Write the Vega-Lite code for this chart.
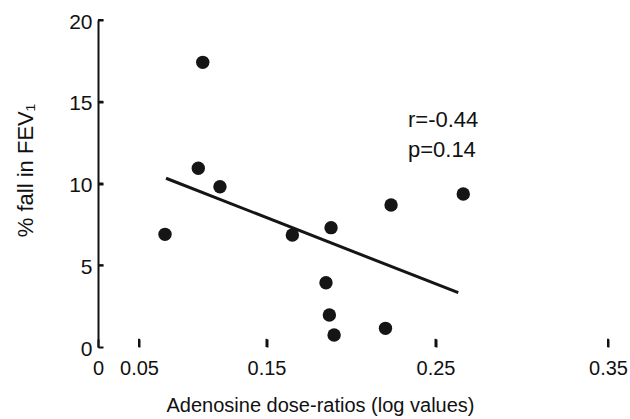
{
  "$schema": "https://vega.github.io/schema/vega-lite/v6.json",
  "width": 510,
  "height": 327,
  "autosize": {"type": "none"},
  "padding": {"left": 98, "top": 20, "right": 22, "bottom": 72},
  "background": "#ffffff",
  "config": {"view": {"stroke": null}, "font": "Liberation Sans"},
  "datasets": {
    "points": [
      {"dose_ratio": 0.100, "fall": 17.41},
      {"dose_ratio": 0.0965, "fall": 10.93},
      {"dose_ratio": 0.1135, "fall": 9.80},
      {"dose_ratio": 0.0704, "fall": 6.89},
      {"dose_ratio": 0.1653, "fall": 6.85},
      {"dose_ratio": 0.1882, "fall": 7.30},
      {"dose_ratio": 0.2237, "fall": 8.69},
      {"dose_ratio": 0.2661, "fall": 9.36},
      {"dose_ratio": 0.1852, "fall": 3.93},
      {"dose_ratio": 0.1872, "fall": 1.96},
      {"dose_ratio": 0.1900, "fall": 0.73},
      {"dose_ratio": 0.2204, "fall": 1.14}
    ],
    "fit": [
      {"dose_ratio": 0.0712, "fall": 10.32},
      {"dose_ratio": 0.2632, "fall": 3.32}
    ],
    "notes": [
      {"dose_ratio": 0.2337, "fall": 13.46, "label": "r=-0.44"},
      {"dose_ratio": 0.2337, "fall": 11.6, "label": "p=0.14"}
    ],
    "xticks": [{"tick": 0.05}, {"tick": 0.15}, {"tick": 0.25}, {"tick": 0.35}],
    "yticks": [{"tick": 5}, {"tick": 10}, {"tick": 15}, {"tick": 20}]
  },
  "layer": [
    {
      "data": {"name": "points"},
      "mark": {"type": "circle", "size": 180, "opacity": 1, "color": "#151515"},
      "encoding": {
        "x": {
          "field": "dose_ratio",
          "type": "quantitative",
          "scale": {"domain": [0, 0.05, 0.15, 0.25, 0.35], "range": [0, 41, 168.5, 337.5, 510]},
          "axis": {
            "values": [0, 0.05, 0.15, 0.25, 0.35],
            "labelExpr": "datum.value == 0 ? '0' : format(datum.value, '.2f')",
            "domain": false,
            "grid": false,
            "ticks": true,
            "zindex": 1,
            "tickSize": -8,
            "tickWidth": 2,
            "tickColor": "#111111",
            "labelFontSize": 20,
            "labelColor": "#111111",
            "labelPadding": 19,
            "labelFlush": false,
            "labelOverlap": false,
            "title": "Adenosine dose-ratios (log values)",
            "titleFontSize": 20,
            "titleFontWeight": "normal",
            "titleColor": "#111111",
            "titleX": 222,
            "titleY": 64,
            "titleBaseline": "alphabetic"
          }
        },
        "y": {
          "field": "fall",
          "type": "quantitative",
          "scale": {"domain": [0, 20], "nice": false, "zero": false},
          "axis": {
            "values": [0, 5, 10, 15, 20],
            "domainWidth": 2,
            "domainColor": "#111111",
            "grid": false,
            "ticks": true,
            "zindex": 1,
            "tickSize": -5,
            "tickWidth": 2,
            "tickColor": "#111111",
            "labelFontSize": 21,
            "labelColor": "#111111",
            "labelPadding": 11,
            "labelOffset": 2,
            "labelFlush": false,
            "labelOverlap": false,
            "title": "% fall in FEV₁",
            "titleFontSize": 22,
            "titleFontWeight": "normal",
            "titleColor": "#111111",
            "titleX": -66,
            "titleY": 150,
            "titleAngle": 270,
            "titleBaseline": "alphabetic"
          }
        }
      }
    },
    {
      "data": {"name": "fit"},
      "mark": {"type": "line", "strokeWidth": 3, "color": "#151515"},
      "encoding": {
        "x": {"field": "dose_ratio", "type": "quantitative"},
        "y": {"field": "fall", "type": "quantitative"}
      }
    },
    {
      "data": {"name": "notes"},
      "mark": {"type": "text", "align": "left", "baseline": "alphabetic", "fontSize": 22, "color": "#111111"},
      "encoding": {
        "x": {"field": "dose_ratio", "type": "quantitative"},
        "y": {"field": "fall", "type": "quantitative"},
        "text": {"field": "label"}
      }
    },
    {
      "data": {"name": "xticks"},
      "mark": {"type": "rule", "strokeWidth": 2, "color": "#111111"},
      "encoding": {"x": {"field": "tick", "type": "quantitative"}, "y": {"datum": 0}, "y2": {"datum": 0.5}}
    },
    {
      "data": {"name": "yticks"},
      "mark": {"type": "rule", "strokeWidth": 2, "color": "#111111"},
      "encoding": {"y": {"field": "tick", "type": "quantitative"}, "x": {"datum": 0}, "x2": {"datum": 0.0065}}
    },
    {
      "mark": {"type": "rule", "strokeWidth": 2, "color": "#111111"},
      "encoding": {"x": {"datum": 0}, "x2": {"datum": 0.011}, "y": {"datum": 0}}
    },
    {
      "mark": {"type": "rule", "strokeWidth": 2, "color": "#111111"},
      "encoding": {"x": {"datum": 0.017}, "x2": {"datum": 0.35}, "y": {"datum": 0}}
    },
    {
      "mark": {"type": "rule", "strokeWidth": 2, "color": "#111111"},
      "encoding": {"x": {"datum": 0.011}, "y": {"datum": -0.35}, "y2": {"datum": 0.4}}
    },
    {
      "mark": {"type": "rule", "strokeWidth": 2, "color": "#111111"},
      "encoding": {"x": {"datum": 0.017}, "y": {"datum": -0.35}, "y2": {"datum": 0.4}}
    }
  ]
}
